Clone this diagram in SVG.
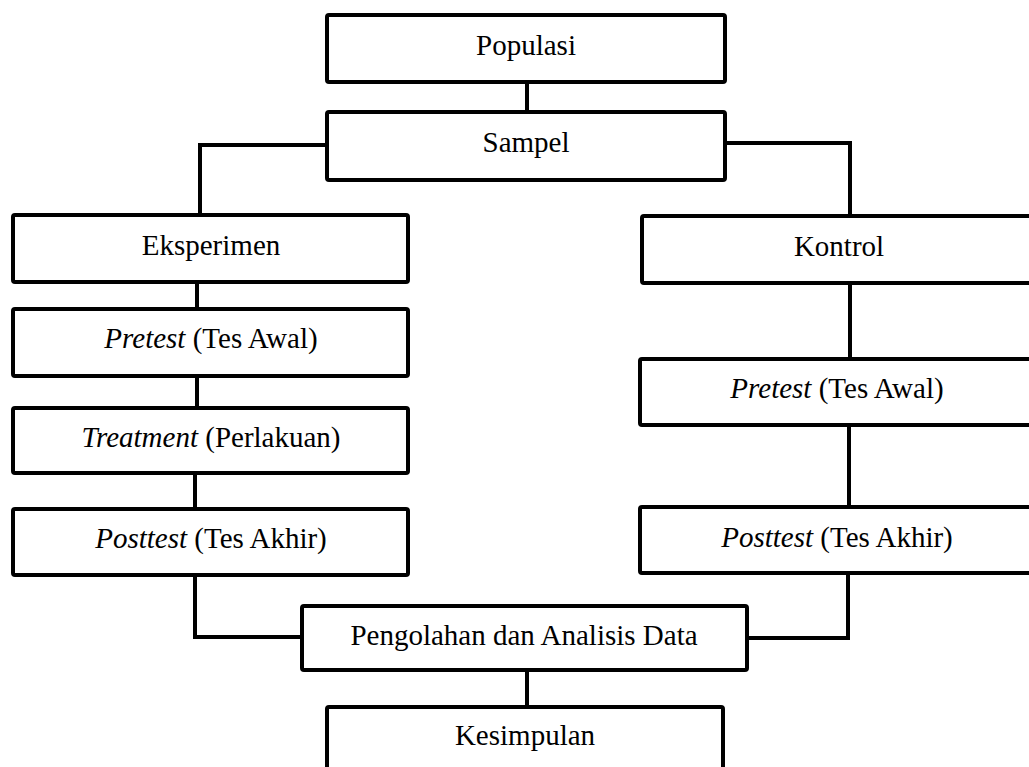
<svg xmlns="http://www.w3.org/2000/svg" width="1029" height="767" viewBox="0 0 1029 767">
<style>
.box{fill:#fff;stroke:#000;stroke-width:4;}
text{font-family:'Liberation Serif','Times New Roman','DejaVu Serif',serif;font-size:29px;fill:#000;text-anchor:middle;}
.it{font-style:italic;}
.con{fill:none;stroke:#000;stroke-width:4;stroke-linejoin:miter;}
</style>
<rect width="1029" height="767" fill="#fff"/>
<g id="connectors">
<path class="con" d="M527,82 V112"/>
<path class="con" d="M327,145 H200 V215"/>
<path class="con" d="M725,143 H850 V216"/>
<path class="con" d="M197,282 V309"/>
<path class="con" d="M197,376 V408"/>
<path class="con" d="M195,473 V509"/>
<path class="con" d="M195,575 V637 H302"/>
<path class="con" d="M850,283 V359"/>
<path class="con" d="M849,425 V507"/>
<path class="con" d="M848,573 V638 H747"/>
<path class="con" d="M527,670 V707"/>
</g>
<g id="populasi"><rect class="box" x="327" y="15" width="398" height="67" rx="2"/><text font-family="Liberation Serif, serif" x="526" y="55">Populasi</text></g>
<g id="sampel"><rect class="box" x="327" y="112" width="398" height="68" rx="2"/><text font-family="Liberation Serif, serif" x="526" y="152">Sampel</text></g>
<g id="eksperimen"><rect class="box" x="13" y="215" width="395" height="67" rx="2"/><text font-family="Liberation Serif, serif" x="211" y="255">Eksperimen</text></g>
<g id="kontrol"><rect class="box" x="642" y="216" width="394" height="67" rx="2"/><text font-family="Liberation Serif, serif" x="839" y="256">Kontrol</text></g>
<g id="pretest-eksperimen"><rect class="box" x="13" y="309" width="395" height="67" rx="2"/><text font-family="Liberation Serif, serif" x="211" y="348"><tspan class="it">Pretest</tspan> (Tes Awal)</text></g>
<g id="treatment"><rect class="box" x="13" y="408" width="395" height="65" rx="2"/><text font-family="Liberation Serif, serif" x="211" y="447"><tspan class="it">Treatment</tspan> (Perlakuan)</text></g>
<g id="posttest-eksperimen"><rect class="box" x="13" y="509" width="395" height="66" rx="2"/><text font-family="Liberation Serif, serif" x="211" y="548"><tspan class="it">Posttest</tspan> (Tes Akhir)</text></g>
<g id="pretest-kontrol"><rect class="box" x="640" y="359" width="395" height="66" rx="2"/><text font-family="Liberation Serif, serif" x="837" y="398"><tspan class="it">Pretest</tspan> (Tes Awal)</text></g>
<g id="posttest-kontrol"><rect class="box" x="640" y="507" width="395" height="66" rx="2"/><text font-family="Liberation Serif, serif" x="837" y="547"><tspan class="it">Posttest</tspan> (Tes Akhir)</text></g>
<g id="pengolahan"><rect class="box" x="302" y="606" width="445" height="64" rx="2"/><text font-family="Liberation Serif, serif" x="524" y="645">Pengolahan dan Analisis Data</text></g>
<g id="kesimpulan"><rect class="box" x="327" y="707" width="396" height="70" rx="2"/><text font-family="Liberation Serif, serif" x="525" y="745">Kesimpulan</text></g>
</svg>
